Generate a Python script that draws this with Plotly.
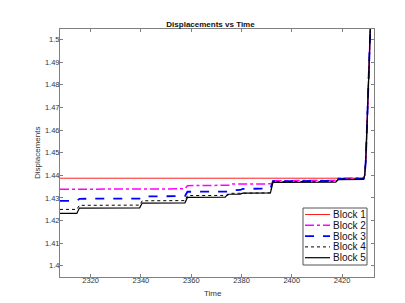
import plotly.graph_objects as go

# ---- data ----
rise_t = [2429.0, 2429.4, 2429.8, 2430.2, 2430.8, 2431.3, 2431.7]
rise_v = [1.440, 1.446, 1.458, 1.470, 1.487, 1.505, 1.520]

b1_t = [2307.8, 2428.6]
b1_v = [1.4387, 1.4387]

b2_t = [2307.8, 2357.5, 2358.5, 2375.5, 2376.3, 2391.5, 2392.5, 2417.5, 2418.5, 2428.6]
b2_v = [1.4338, 1.4340, 1.4354, 1.4356, 1.4361, 1.4362, 1.4376, 1.4377, 1.4387, 1.4388]

b3_t = [2307.8, 2314.5, 2315.5, 2339.5, 2340.5, 2357.5, 2358.5, 2374.5, 2375.5,
        2379.5, 2380.5, 2391.5, 2392.5, 2417.5, 2418.5, 2428.6]
b3_v = [1.4287, 1.4287, 1.4296, 1.4297, 1.4306, 1.4308, 1.4327, 1.4328, 1.4334,
        1.4335, 1.4340, 1.4341, 1.4374, 1.4375, 1.4384, 1.4385]

b4_t = [2307.8, 2314.5, 2315.5, 2339.5, 2340.5, 2357.5, 2358.5, 2374.5, 2375.5,
        2391.5, 2392.5, 2417.5, 2418.5, 2428.6]
b4_v = [1.4249, 1.4249, 1.4267, 1.4268, 1.4287, 1.4288, 1.4310, 1.4311, 1.4320,
        1.4322, 1.4372, 1.4373, 1.4383, 1.4384]

b5_t = [2307.8, 2314.5, 2315.5, 2339.5, 2340.5, 2357.5, 2358.5, 2373.5, 2374.5,
        2379.5, 2380.5, 2391.5, 2392.5, 2417.5, 2418.5, 2428.6]
b5_v = [1.4231, 1.4231, 1.4255, 1.4256, 1.4277, 1.4278, 1.4302, 1.4303, 1.4316,
        1.4317, 1.4321, 1.4322, 1.4369, 1.4370, 1.4381, 1.4382]

names = ["Block 1", "Block 2", "Block 3", "Block 4", "Block 5"]
x_ticks = [2320, 2340, 2360, 2380, 2400, 2420]
y_ticks = [1.40, 1.41, 1.42, 1.43, 1.44, 1.45, 1.46, 1.47, 1.48, 1.49, 1.50]

styles = [
    dict(color="#ff2020", width=1, dash="solid"),
    dict(color="#ff00ff", width=1.5, dash="dashdot"),
    dict(color="#0000ff", width=1.8, dash="dash"),
    dict(color="#000000", width=1, dash="dot"),
    dict(color="#000000", width=1.2, dash="solid"),
]
series = [(b1_t, b1_v), (b2_t, b2_v), (b3_t, b3_v), (b4_t, b4_v), (b5_t, b5_v)]

# layout geometry (pixels)
W, H = 405, 303
ML, MR, MT, MB = 52, 39, 21, 34
PW, PH = W - ML - MR, H - MT - MB


def px(xp):
    return (xp - ML) / PW


def py(yp):
    return (H - MB - yp) / PH


fig = go.Figure()
for name, (t, v), line in zip(names, series, styles):
    fig.add_trace(go.Scatter(x=t + rise_t, y=v + rise_v, mode="lines",
                             name=name, line=line, showlegend=False))

# compact MATLAB-like legend box
shapes = [dict(type="rect", xref="paper", yref="paper",
               x0=px(295), x1=px(359), y0=py(257), y1=py(200),
               line=dict(color="#555555", width=1), fillcolor="white", layer="above")]
annotations = []
for i, (name, line) in enumerate(zip(names, styles)):
    yc = 206.5 + i * 10.8
    shapes.append(dict(type="line", xref="paper", yref="paper",
                       x0=px(297), x1=px(322), y0=py(yc), y1=py(yc),
                       line=line, layer="above"))
    annotations.append(dict(xref="paper", yref="paper", x=px(323), y=py(yc),
                            text=name, showarrow=False, xanchor="left", yanchor="middle",
                            font=dict(size=10, color="#111111")))

# axis titles
annotations.append(dict(xref="paper", yref="paper", x=px(29), y=py(145),
                        text="Displacements", textangle=-90, showarrow=False,
                        xanchor="center", yanchor="middle",
                        font=dict(size=8, color="#333333")))
annotations.append(dict(xref="paper", yref="paper", x=px(205), y=py(285),
                        text="Time", showarrow=False,
                        xanchor="center", yanchor="middle",
                        font=dict(size=8, color="#333333")))

axis_common = dict(
    showline=True, linecolor="#808080", linewidth=1, mirror="ticks",
    ticks="inside", ticklen=3, tickcolor="#808080", showgrid=False,
    zeroline=False, tickfont=dict(size=7.5, color="#333333"),
)

fig.update_layout(
    width=W, height=H,
    margin=dict(l=ML, r=MR, t=MT, b=MB),
    paper_bgcolor="white", plot_bgcolor="white",
    font=dict(family="Liberation Sans, Arial, sans-serif", color="#262626"),
    title=dict(text="<b>Displacements vs Time</b>", x=0.5, xanchor="center",
               y=0.945, yanchor="middle", font=dict(size=8, color="#111111")),
    xaxis=dict(range=[2307.8, 2432.7], tickvals=x_ticks, ticklabelstandoff=-4,
               **axis_common),
    yaxis=dict(range=[1.395, 1.5047], tickvals=y_ticks, ticklabelstandoff=-2,
               tickformat="~g", **axis_common),
    shapes=shapes,
    annotations=annotations,
    showlegend=False,
)

fig.write_html("out.html")
